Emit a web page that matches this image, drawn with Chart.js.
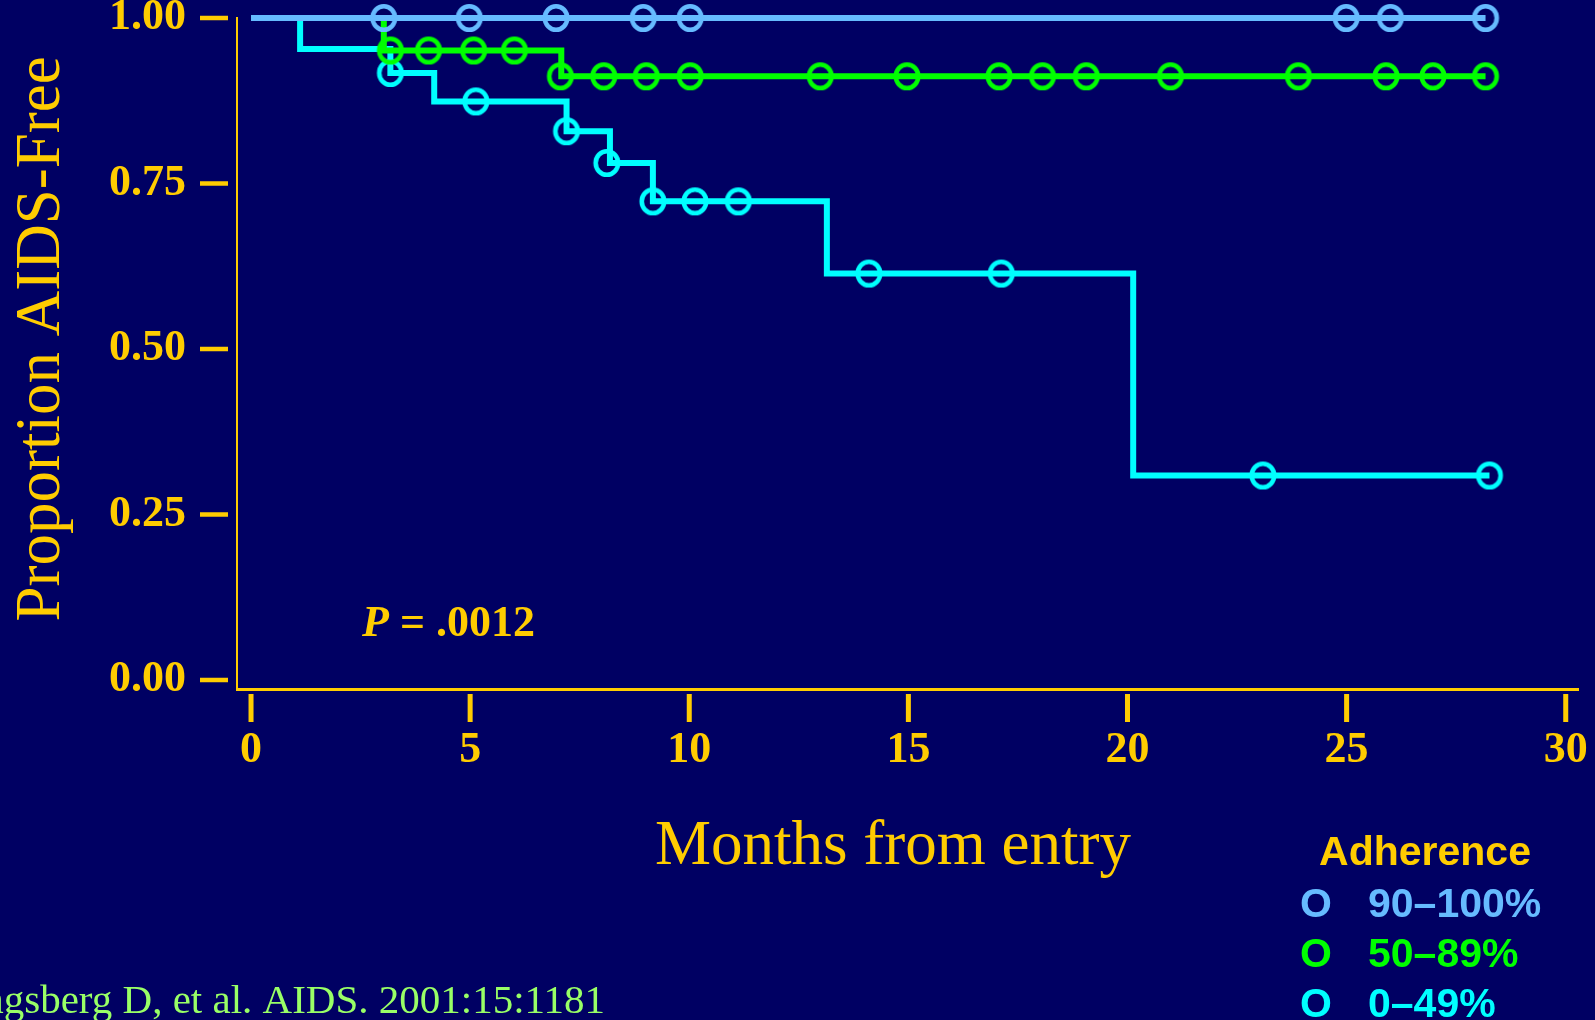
<!DOCTYPE html>
<html>
<head>
<meta charset="utf-8">
<script src="https://cdn.jsdelivr.net/npm/chart.js@4/dist/chart.umd.min.js"></script>
<style>
  html, body { margin: 0; padding: 0; background: #000063; }
  canvas { display: block; }
</style>
</head>
<body>
<canvas id="kmChart" width="1595" height="1020"></canvas>
<script>
const groupLabels = ['90–100%', '50–89%', '0–49%'];
const groupColors = ['#66bbff', '#00ff00', '#00ffff'];

const xTicks = [0, 5, 10, 15, 20, 25, 30];
const yTicks = [0, 0.25, 0.5, 0.75, 1];

// Kaplan-Meier steps (month, proportion AIDS-free)
const stepX90 = [0, 28.17];
const stepY90 = [1, 1];
const censorX90 = [3.03, 4.98, 6.96, 8.95, 10.02, 24.99, 26.0, 28.17];
const censorY90 = [1, 1, 1, 1, 1, 1, 1, 1];

const stepX50 = [0, 3.03, 7.08, 28.17];
const stepY50 = [1, 0.951, 0.912, 0.912];
const censorX50 = [3.18, 4.05, 5.08, 6.01, 7.06, 8.05, 9.02, 10.02, 12.99, 14.97, 17.07, 18.06, 19.06, 20.98, 23.9, 25.9, 26.97, 28.17];
const censorY50 = [0.951, 0.951, 0.951, 0.951, 0.912, 0.912, 0.912, 0.912, 0.912, 0.912, 0.912, 0.912, 0.912, 0.912, 0.912, 0.912, 0.912, 0.912];

const stepX0 = [0, 1.12, 3.18, 4.18, 7.2, 8.19, 9.17, 13.14, 20.13, 28.26];
const stepY0 = [1, 0.953, 0.917, 0.874, 0.829, 0.781, 0.723, 0.614, 0.309, 0.309];
const censorX0 = [3.18, 5.13, 7.2, 8.12, 9.17, 10.13, 11.12, 14.1, 17.12, 23.09, 28.26];
const censorY0 = [0.917, 0.874, 0.829, 0.781, 0.723, 0.723, 0.723, 0.614, 0.614, 0.309, 0.309];

const xTitle = 'Months from entry';
const yTitle = 'Proportion AIDS-Free';
const legendTitle = 'Adherence';
const pText = ' = .0012';
const citation = 'Bangsberg D, et al. AIDS. 2001:15:1181';

const gold = '#ffcc00';
const citeColor = '#99ff66';

function pts(xs, ys) {
  return xs.map((v, i) => ({ x: v, y: ys[i] }));
}

function makeRing(color) {
  const c = document.createElement('canvas');
  c.width = 32;
  c.height = 34;
  const g = c.getContext('2d');
  g.strokeStyle = color;
  g.lineWidth = 4.6;
  g.beginPath();
  g.ellipse(16, 17, 11.2, 11.8, 0, 0, Math.PI * 2);
  g.stroke();
  return c;
}

function stepSet(xs, ys, color, order) {
  return {
    data: pts(xs, ys),
    showLine: true,
    stepped: 'before',
    borderColor: color,
    borderWidth: 6,
    borderCapStyle: 'butt',
    borderJoinStyle: 'miter',
    pointRadius: 0,
    fill: false,
    clip: false,
    order: order
  };
}

function ringSet(xs, ys, color, order) {
  return {
    data: pts(xs, ys),
    showLine: false,
    pointStyle: makeRing(color),
    pointRadius: 12,
    clip: false,
    order: order
  };
}

const decor = {
  id: 'decor',
  afterDraw(chart) {
    const { ctx, scales: { x, y } } = chart;
    ctx.save();
    ctx.fillStyle = gold;

    // detached tick dashes
    yTicks.forEach(v => {
      const py = y.getPixelForValue(v);
      ctx.fillRect(200, py - 2.25, 28, 4.5);
    });
    xTicks.forEach(v => {
      const px = x.getPixelForValue(v);
      ctx.fillRect(px - 2.5, 694, 5, 28);
    });

    // axis titles
    ctx.font = '63px "Liberation Serif"';
    ctx.textBaseline = 'alphabetic';
    ctx.textAlign = 'center';
    ctx.fillText(xTitle, 893, 864);
    ctx.save();
    ctx.translate(59, 339);
    ctx.rotate(-Math.PI / 2);
    ctx.fillText(yTitle, 0, 0);
    ctx.restore();

    // p value
    ctx.textAlign = 'left';
    ctx.font = 'italic bold 44px "Liberation Serif"';
    ctx.fillText('P', 362, 636);
    const pw = ctx.measureText('P').width;
    ctx.font = 'bold 44px "Liberation Serif"';
    ctx.fillText(pText, 362 + pw, 636);

    // legend
    ctx.font = 'bold 41px "Liberation Sans"';
    ctx.textAlign = 'center';
    ctx.fillText(legendTitle, 1425, 865);
    ctx.textAlign = 'left';
    const rows = [917, 967, 1017];
    groupLabels.forEach((lab, i) => {
      ctx.fillStyle = groupColors[i];
      ctx.fillText('O', 1300, rows[i]);
      ctx.fillText(lab, 1368, rows[i]);
    });

    // citation
    ctx.fillStyle = citeColor;
    ctx.font = '41px "Liberation Serif"';
    ctx.textAlign = 'right';
    ctx.fillText(citation, 605, 1013);
    ctx.restore();
  }
};

const tickFont = { family: '"Liberation Serif"', weight: 'bold', size: 44 };

new Chart(document.getElementById('kmChart').getContext('2d'), {
  type: 'scatter',
  data: {
    datasets: [
      stepSet(stepX90, stepY90, groupColors[0], 2),
      ringSet(censorX90, censorY90, groupColors[0], 1),
      stepSet(stepX50, stepY50, groupColors[1], 4),
      ringSet(censorX50, censorY50, groupColors[1], 3),
      stepSet(stepX0, stepY0, groupColors[2], 6),
      ringSet(censorX0, censorY0, groupColors[2], 5)
    ]
  },
  options: {
    responsive: false,
    animation: false,
    events: [],
    layout: { padding: { left: 0, top: 18, right: 17, bottom: 231 } },
    plugins: {
      legend: { display: false },
      tooltip: { enabled: false }
    },
    scales: {
      x: {
        type: 'linear',
        min: -0.32,
        max: 30.28,
        afterBuildTicks: s => { s.ticks = xTicks.map(v => ({ value: v })); },
        afterFit: s => { s.height = 100; s.paddingLeft = 0; s.paddingRight = 0; },
        grid: { display: true, drawOnChartArea: false, drawTicks: true, tickLength: 30, tickColor: 'transparent' },
        border: { display: true, color: gold, width: 3 },
        ticks: { color: gold, padding: 5, font: tickFont, maxRotation: 0, autoSkip: false }
      },
      y: {
        type: 'linear',
        min: -0.0136,
        max: 1,
        afterBuildTicks: s => { s.ticks = yTicks.map(v => ({ value: v })); },
        afterFit: s => { s.width = 237; s.paddingTop = 0; s.paddingBottom = 0; },
        grid: { display: true, drawOnChartArea: false, drawTicks: true, tickLength: 37, tickColor: 'transparent' },
        border: { display: true, color: gold, width: 2 },
        ticks: { color: gold, padding: 14, font: tickFont, callback: v => v.toFixed(2) }
      }
    }
  },
  plugins: [decor]
});
</script>
</body>
</html>
